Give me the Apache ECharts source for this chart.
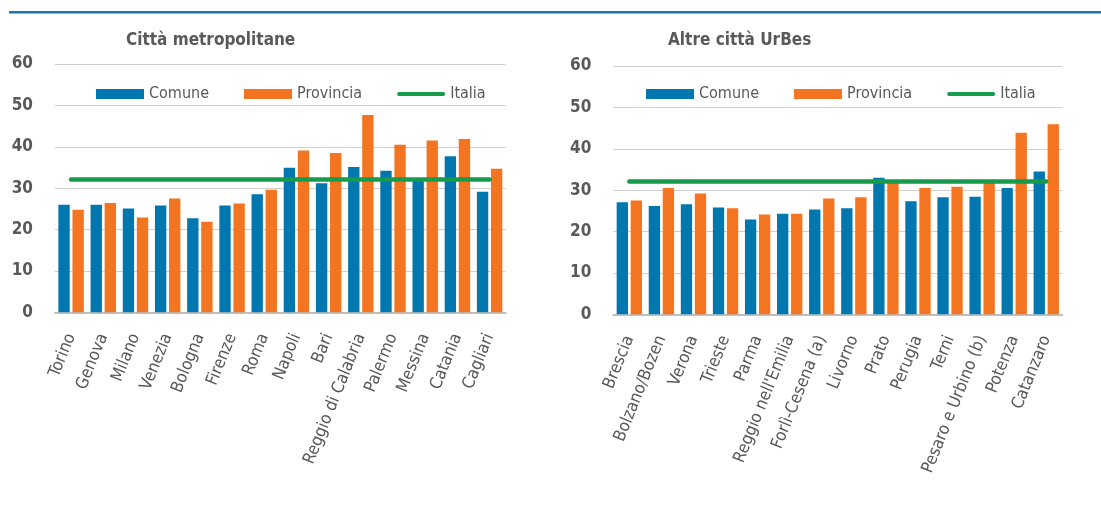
<!DOCTYPE html>
<html>
<head>
<meta charset="utf-8">
<script src="https://cdn.jsdelivr.net/npm/echarts@6/dist/echarts.min.js"></script>
<style>
  html, body { margin: 0; padding: 0; background: #fff; }
  #chart { width: 1101px; height: 507px; }
</style>
</head>
<body>
<div id="chart"></div>
<script>
// Città metropolitane
let metroCities = ['Torino', 'Genova', 'Milano', 'Venezia', 'Bologna', 'Firenze', 'Roma',
    'Napoli', 'Bari', 'Reggio di Calabria', 'Palermo', 'Messina', 'Catania', 'Cagliari'];
let metroComune = [26.0, 26.0, 25.1, 25.8, 22.7, 25.8, 28.5, 34.9, 31.2, 35.1, 34.2, 32.4, 37.7, 29.1];
let metroProvincia = [24.8, 26.4, 22.9, 27.5, 21.9, 26.3, 29.6, 39.1, 38.5, 47.7, 40.5, 41.5, 41.9, 34.7];

// Altre città UrBes
let otherCities = ['Brescia', 'Bolzano/Bozen', 'Verona', 'Trieste', 'Parma', "Reggio nell'Emilia",
    'Forlì-Cesena (a)', 'Livorno', 'Prato', 'Perugia', 'Terni', 'Pesaro e Urbino (b)', 'Potenza', 'Catanzaro'];
let otherComune = [27.1, 26.2, 26.6, 25.8, 22.9, 24.3, 25.3, 25.6, 33.0, 27.3, 28.3, 28.4, 30.5, 34.5];
let otherProvincia = [27.5, 30.5, 29.2, 25.6, 24.1, 24.3, 28.0, 28.3, 31.8, 30.5, 30.8, 31.8, 43.9, 45.9];

let italia = 32.1;
let yTicks = [0, 10, 20, 30, 40, 50, 60];

const BLUE = '#0077ae';
const ORANGE = '#f37521';
const GREEN = '#169a4c';
const TEXT = '#595959';
const FONT = '"DejaVu Sans Condensed", "Liberation Sans Narrow", sans-serif';
// thin bar with round ends for the Italia legend entry
const LINE_ICON = 'path://M2,0 L46,0 A2,2 0 0 1 46,4 L2,4 A2,2 0 0 1 2,0 Z';

let chart = echarts.init(document.getElementById('chart'));
chart.setOption(makeOptions());

function makeOptions() {
    return {
        animation: false,
        textStyle: { fontFamily: FONT },
        graphic: [
            {
                type: 'rect',
                shape: { x: 9, y: 11, width: 1092, height: 2.5 },
                style: { fill: '#1a76ad' }
            }
        ],
        title: [
            makeTitle('Città metropolitane', 126),
            makeTitle('Altre città UrBes', 668)
        ],
        legend: [makeLegend(96), makeLegend(646)],
        grid: [
            { left: 55, right: 1101 - 505.7, top: 64, bottom: 507 - 312.3 },
            { left: 613.3, right: 1101 - 1062.3, top: 66, bottom: 507 - 314.3 }
        ],
        xAxis: [makeXAxis(0, metroCities), makeXAxis(1, otherCities)],
        yAxis: [makeYAxis(0), makeYAxis(1)],
        series: [
            makeBar('Comune', 0, metroComune, BLUE),
            makeBar('Provincia', 0, metroProvincia, ORANGE),
            makeItalia(0, metroCities),
            makeBar('Comune', 1, otherComune, BLUE),
            makeBar('Provincia', 1, otherProvincia, ORANGE),
            makeItalia(1, otherCities)
        ]
    };
}

function makeTitle(text, left) {
    return {
        text: text,
        left: left,
        top: 32,
        padding: 0,
        textStyle: { fontFamily: FONT, fontSize: 17, fontWeight: 'bold', color: TEXT }
    };
}

function makeLegend(left) {
    return {
        left: left,
        top: 86,
        padding: 0,
        itemWidth: 48,
        itemHeight: 10,
        itemGap: 35,
        textStyle: { fontFamily: FONT, fontSize: 16, color: TEXT },
        data: [
            { name: 'Comune', icon: 'rect' },
            { name: 'Provincia', icon: 'rect' },
            { name: 'Italia', icon: LINE_ICON }
        ]
    };
}

function makeXAxis(index, cities) {
    return {
        type: 'category',
        gridIndex: index,
        data: cities,
        axisTick: { show: false },
        axisLine: { lineStyle: { color: '#bfbfbf', width: 2 } },
        axisLabel: {
            interval: 0,
            rotate: 68,
            margin: 22,
            fontFamily: FONT,
            fontSize: 17,
            color: TEXT
        }
    };
}

function makeYAxis(index) {
    return {
        type: 'value',
        gridIndex: index,
        min: yTicks[0],
        max: yTicks[yTicks.length - 1],
        interval: 10,
        axisLabel: {
            margin: 22,
            fontFamily: FONT,
            fontSize: 17,
            fontWeight: 'bold',
            color: TEXT
        },
        splitLine: { lineStyle: { color: '#d0d0d0', width: 1 } }
    };
}

function makeBar(name, index, values, color) {
    return {
        type: 'bar',
        name: name,
        xAxisIndex: index,
        yAxisIndex: index,
        data: values,
        barGap: '24%',
        barCategoryGap: '21%',
        itemStyle: { color: color }
    };
}

function makeItalia(index, cities) {
    return {
        type: 'line',
        name: 'Italia',
        xAxisIndex: index,
        yAxisIndex: index,
        data: [],
        symbol: 'none',
        z: 5,
        itemStyle: { color: GREEN },
        lineStyle: { color: GREEN, width: 4.5, cap: 'round' },
        markLine: {
            silent: true,
            symbol: 'none',
            label: { show: false },
            lineStyle: { color: GREEN, width: 4.5, type: 'solid', cap: 'round' },
            data: [[
                { coord: [cities[0], italia] },
                { coord: [cities[cities.length - 1], italia] }
            ]]
        }
    };
}
</script>
</body>
</html>
